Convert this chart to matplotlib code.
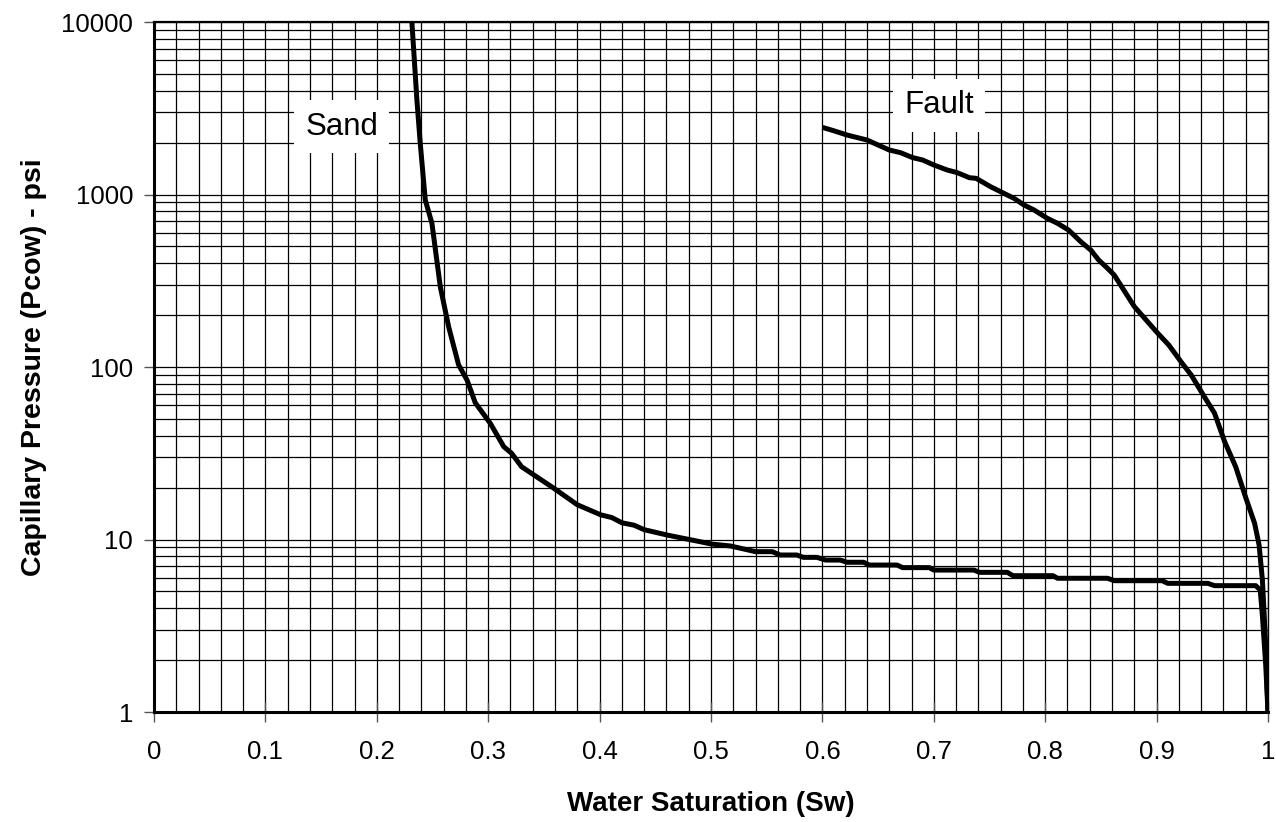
import numpy as np
import matplotlib
matplotlib.use("Agg")
from matplotlib import pyplot as plt
from matplotlib.ticker import FixedLocator, LogLocator, NullFormatter

plt.rcParams['font.family'] = ['Liberation Sans', 'DejaVu Sans']

# Sand curve (water saturation, capillary pressure psi)
sand_sw = [0.2315, 0.236, 0.239, 0.2435, 0.2495, 0.257, 0.2645, 0.2734, 0.281, 0.2884,
           0.302, 0.314, 0.321, 0.330, 0.359, 0.380, 0.401, 0.411, 0.420, 0.431,
           0.440, 0.461, 0.4906, 0.501, 0.5175, 0.540, 0.555, 0.562, 0.577, 0.583,
           0.595, 0.603, 0.616, 0.622, 0.637, 0.642, 0.667, 0.672, 0.696, 0.700,
           0.736, 0.741, 0.766, 0.771, 0.807, 0.811, 0.856, 0.862, 0.905, 0.910,
           0.946, 0.952, 0.989, 0.993, 0.995, 0.998, 1.0]
sand_pc = [10000, 3530, 1980, 930, 680, 292, 171, 103, 84, 62,
           47, 34.5, 31.6, 26.4, 19.8, 15.9, 13.9, 13.4, 12.5, 12.1,
           11.4, 10.6, 9.7, 9.4, 9.17, 8.5, 8.5, 8.13, 8.13, 7.88,
           7.88, 7.6, 7.6, 7.38, 7.38, 7.11, 7.11, 6.87, 6.87, 6.65,
           6.65, 6.45, 6.45, 6.17, 6.17, 5.96, 5.96, 5.77, 5.77, 5.57,
           5.57, 5.40, 5.40, 5.1, 3.6, 1.85, 1.0]

# Fault curve
fault_sw = [0.600, 0.610, 0.622, 0.640, 0.660, 0.670, 0.681, 0.690, 0.700, 0.712,
            0.721, 0.732, 0.738, 0.751, 0.760, 0.772, 0.781, 0.790, 0.802, 0.811,
            0.821, 0.832, 0.841, 0.848, 0.856, 0.862, 0.880, 0.901, 0.911, 0.922,
            0.931, 0.943, 0.952, 0.961, 0.971, 0.980, 0.988, 0.992, 0.995,
            0.998, 1.0]
fault_pc = [2450, 2344, 2213, 2070, 1811, 1749, 1636, 1585, 1483, 1387,
            1339, 1251, 1241, 1109, 1038, 950, 869, 813, 727, 681,
            622, 532, 476, 417, 373, 341, 224, 157, 134, 107,
            90, 67, 54, 37, 26.4, 17.5, 12.4, 9.3, 5.8,
            2.4, 1.0]

x_ticks = [0, 0.1, 0.2, 0.3, 0.4, 0.5, 0.6, 0.7, 0.8, 0.9, 1]
x_ticklabels = ['0', '0.1', '0.2', '0.3', '0.4', '0.5', '0.6', '0.7', '0.8', '0.9', '1']
y_ticks = [1, 10, 100, 1000, 10000]
y_ticklabels = ['1', '10', '100', '1000', '10000']

fig = plt.figure(figsize=(12.76, 8.22), dpi=100)
ax = fig.add_axes([154/1276, 1 - 712/822, (1268 - 154)/1276, (712 - 22)/822])

ax.set_yscale('log')
ax.set_xlim(0, 1)
ax.set_ylim(1, 10000)

# grid: every 0.02 on x, log minors on y
ax.xaxis.set_minor_locator(FixedLocator(np.arange(0, 1.0001, 0.02)))
ax.yaxis.set_minor_locator(LogLocator(base=10, subs=np.arange(2, 10)))
ax.yaxis.set_minor_formatter(NullFormatter())
ax.grid(True, which='both', color='black', linewidth=0.9)
ax.set_axisbelow(True)

ax.plot(sand_sw, sand_pc, color='black', linewidth=3.6, solid_capstyle='butt', zorder=3)
ax.plot(fault_sw, fault_pc, color='black', linewidth=3.6, solid_capstyle='butt', zorder=3)

ax.set_xticks(x_ticks)
ax.set_xticklabels(x_ticklabels)
ax.set_yticks(y_ticks)
ax.set_yticklabels(y_ticklabels)
ax.tick_params(axis='x', which='major', direction='inout', length=15, width=1,
               color='#555555', labelsize=18.5, pad=13)
ax.tick_params(axis='y', which='major', direction='out', length=7, width=1,
               color='#555555', labelsize=18.5, pad=8)
ax.tick_params(which='minor', length=0)

for side in ['left', 'bottom']:
    ax.spines[side].set_linewidth(2.2)
ax.spines['top'].set_linewidth(1.6)
ax.spines['right'].set_linewidth(1.0)

ax.set_xlabel('Water Saturation (Sw)', fontsize=20, fontweight='bold', labelpad=19)
ax.set_ylabel('Capillary Pressure (Pcow) - psi', fontsize=20.5, fontweight='bold', labelpad=10)

box = dict(facecolor='white', edgecolor='none', pad=8)
ax.text(0.1685, 2478, 'Sand', fontsize=22.5, ha='center', va='center', bbox=box, zorder=4)
ax.text(0.7044, 3281, 'Fault', fontsize=22.5, ha='center', va='center', bbox=box, zorder=4)

plt.savefig('out.png', dpi=100)
